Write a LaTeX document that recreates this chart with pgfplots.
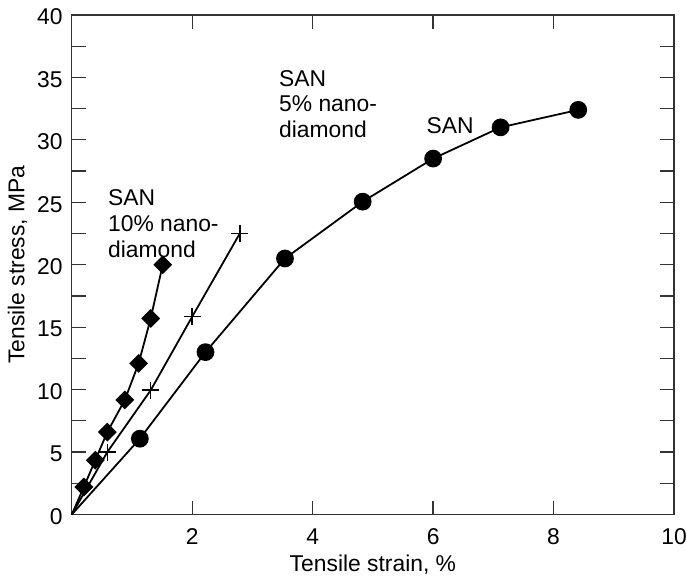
\documentclass[border=0pt]{standalone}
\usepackage{fontspec}
\setmainfont{Liberation Sans}
\usepackage{pgfplots}
\pgfplotsset{compat=1.18}
\begin{document}
\fontsize{23}{26}\selectfont
\begin{tikzpicture}
\begin{axis}[
  scale only axis, width=604bp, height=501bp,
  xmin=0, xmax=10, ymin=0, ymax=40,
  xtick={2,4,6,8,10}, ytick={0,5,...,40},
  minor ytick={2.5,7.5,...,37.5},
  tick align=inside, major tick length=14bp, minor tick length=14bp,
  /pgf/number format/assume math mode=true,
  ticklabel style={font=\fontsize{23}{25}\selectfont},
  xticklabel style={inner sep=0pt, yshift=-14bp},
  yticklabel style={inner sep=0pt, xshift=-9bp, yshift=-2bp},
  label style={font=\fontsize{23}{25}\selectfont},
  xlabel={Tensile strain, \%}, ylabel={Tensile stress, MPa},
  xlabel style={inner ysep=2bp, yshift=-8bp},
  ylabel style={yshift=2bp},
  axis line style={line width=1.3bp, black!80},
  tick style={line width=1.3bp, black!80},
  clip=false,
]
\addplot[black, line width=1.8bp, mark=*, mark size=8bp, mark indices={2,...,8}] coordinates {
 (0,0) (1.13,6.07) (2.22,13.0) (3.54,20.5) (4.83,25.05) (6.00,28.5) (7.12,31.0) (8.41,32.4)};
\addplot[black, line width=1.8bp, mark=+, mark size=8.5bp, mark indices={2,...,5}, mark options={line width=1.5bp}] coordinates {
 (0,0) (0.59,5.0) (1.31,9.95) (2.0,15.85) (2.79,22.5)};
\addplot[black, line width=1.8bp, mark=square*, mark size=5.8bp, mark indices={2,...,8}, mark options={rotate=45}] coordinates {
 (0,0) (0.2,2.2) (0.39,4.35) (0.59,6.6) (0.88,9.17) (1.11,12.1) (1.31,15.7) (1.51,20.0)};
\node[anchor=north west, inner sep=0pt, align=left] at (axis cs:0.6,26.03) {SAN\\10\% nano-\\diamond};
\node[anchor=north west, inner sep=0pt, align=left] at (axis cs:3.44,35.6) {SAN\\5\% nano-\\diamond};
\node[anchor=north west, inner sep=0pt, align=left] at (axis cs:5.89,31.8) {SAN};
\end{axis}
\pgfresetboundingbox
\path ([xshift=-72bp,yshift=-63bp]current axis.south west) rectangle ([xshift=13bp,yshift=15bp]current axis.north east);
\end{tikzpicture}
\end{document}
